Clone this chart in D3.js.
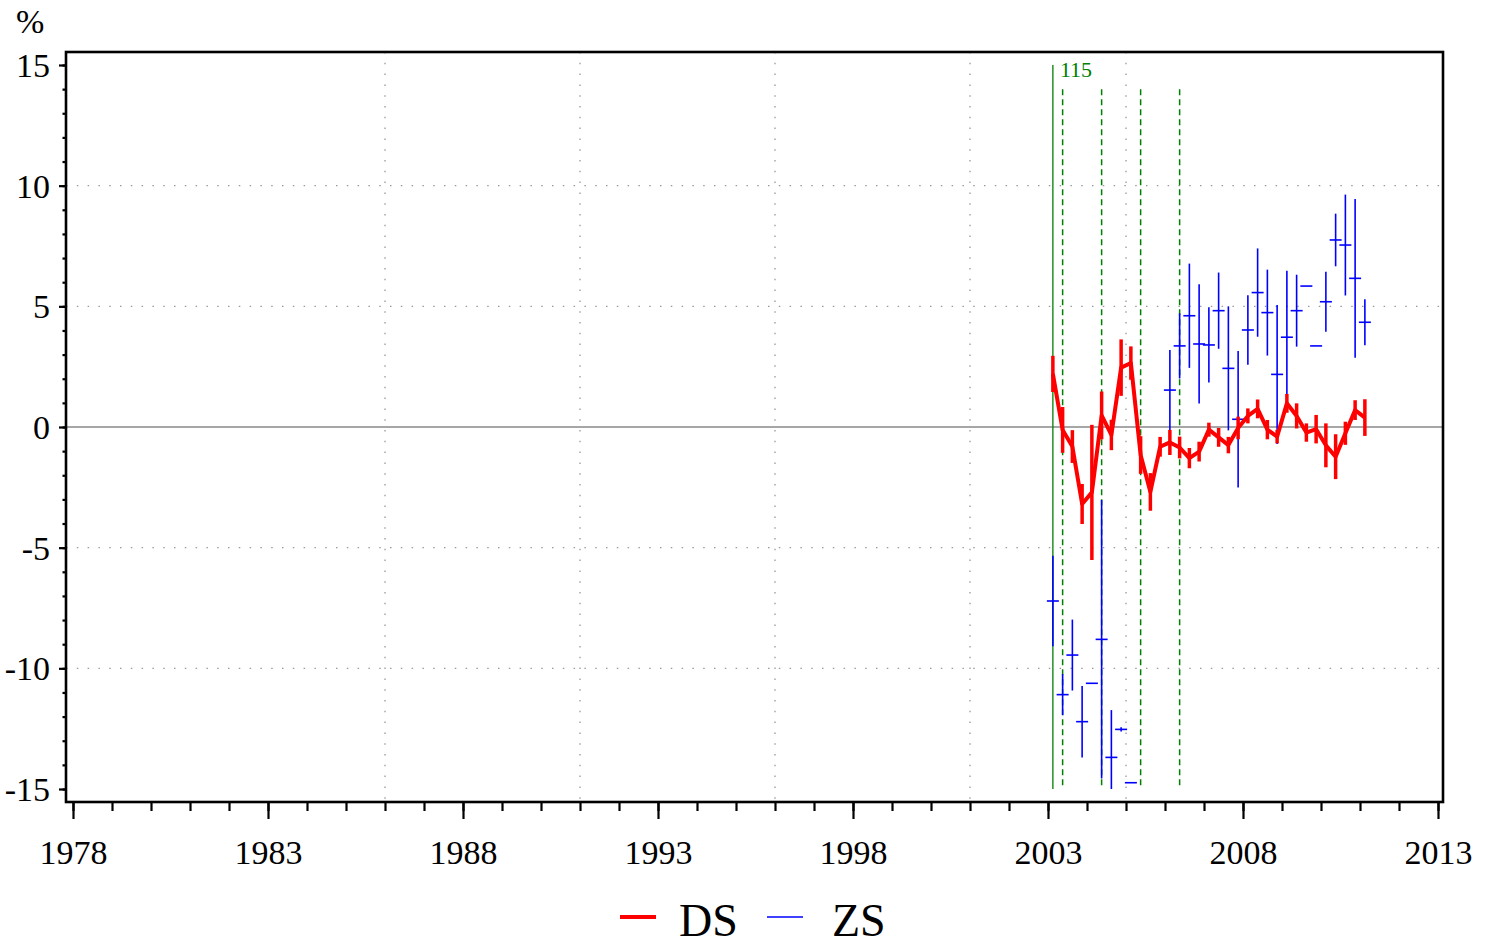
<!DOCTYPE html>
<html>
<head>
<meta charset="utf-8">
<script src="https://cdn.jsdelivr.net/npm/d3@7"></script>
<style>
  html, body { margin: 0; padding: 0; background: #ffffff; }
  svg { display: block; }
  text { font-family: "Liberation Serif", "Times New Roman", serif; }
</style>
</head>
<body>
<svg id="chart" width="1489" height="945"></svg>
<script>
// ---------------- DATA ----------------
const periods = ["2003Q1","2003Q2","2003Q3","2003Q4","2004Q1","2004Q2","2004Q3","2004Q4",
  "2005Q1","2005Q2","2005Q3","2005Q4","2006Q1","2006Q2","2006Q3","2006Q4",
  "2007Q1","2007Q2","2007Q3","2007Q4","2008Q1","2008Q2","2008Q3","2008Q4",
  "2009Q1","2009Q2","2009Q3","2009Q4","2010Q1","2010Q2","2010Q3","2010Q4","2011Q1"];
const dsValues = [2.20,-0.12,-0.81,-3.19,-2.71,0.48,-0.33,2.46,2.65,-1.16,-2.69,-0.82,-0.64,-0.85,-1.29,-1.02,
  -0.11,-0.43,-0.75,-0.04,0.46,0.75,-0.11,-0.40,0.98,0.46,-0.23,-0.09,-0.76,-1.23,-0.26,0.70,0.39];
const dsErr = [0.75,0.95,0.68,0.83,2.80,0.99,0.63,1.17,0.69,0.78,0.78,0.41,0.52,0.45,0.42,0.41,
  0.29,0.39,0.34,0.47,0.31,0.39,0.40,0.28,0.39,0.52,0.38,0.59,0.91,0.93,0.48,0.41,0.76];
const zsValues = [-7.21,-11.09,-9.45,-12.21,-10.62,-8.80,-13.69,-12.53,-14.74,null,null,null,
  1.53,3.36,4.61,3.44,3.40,4.82,2.43,0.32,4.02,5.57,4.74,2.18,3.72,4.82,5.84,3.36,5.19,7.75,7.54,6.16,4.34];
const zsErr = [1.88,0.85,1.47,1.48,0,5.77,1.96,0.09,0,null,null,null,
  1.66,1.35,2.16,2.47,1.56,1.58,2.57,2.83,1.44,1.83,1.78,2.88,2.75,1.49,0,0,1.24,1.09,2.09,3.29,0.95];

const xMajorTicks = [1978,1983,1988,1993,1998,2003,2008,2013];
const xMinorTicks = d3.range(1978, 2014);
const yMajorTicks = [-15,-10,-5,0,5,10,15];
const yMinorTicks = d3.range(-15, 16);
const yGrid = [-10,-5,5,10];
const xGrid = [1986,1991,1996,2001,2005];
const solidMarker = "2003Q1";
const solidMarkerLabel = "115";
const dashedMarkers = ["2003Q2","2004Q2","2005Q2","2006Q2"];
const seriesNames = ["DS","ZS"];
const yUnit = "%";

// ---------------- LAYOUT ----------------
const toYear = p => +p.slice(0,4) + (+p.slice(5) - 0.5) / 4;
const svg = d3.select("#chart");
const frame = {left: 66, right: 1443, top: 52, bottom: 802};
const x = d3.scaleLinear().domain([1978, 2013]).range([73, 1438]);
const y = d3.scaleLinear().domain([-15, 15]).range([789, 65]);
const clampY = v => Math.max(-15, Math.min(15, v));
const plainNum = d => String(d);

// grid
svg.append("g").selectAll("line").data(yGrid).join("line")
  .attr("x1", frame.left).attr("x2", frame.right)
  .attr("y1", d => y(d)).attr("y2", d => y(d))
  .attr("stroke", "#999").attr("stroke-width", 1.3).attr("stroke-dasharray", "1.5,9.3");
svg.append("g").selectAll("line").data(xGrid).join("line")
  .attr("x1", d => x(d)).attr("x2", d => x(d))
  .attr("y1", frame.top).attr("y2", frame.bottom)
  .attr("stroke", "#999").attr("stroke-width", 1.3).attr("stroke-dasharray", "1.5,9.3");

// zero line
svg.append("line")
  .attr("x1", frame.left).attr("x2", frame.right)
  .attr("y1", y(0)).attr("y2", y(0))
  .attr("stroke", "#888").attr("stroke-width", 1.5);

// green markers
svg.append("line")
  .attr("x1", x(toYear(solidMarker))).attr("x2", x(toYear(solidMarker)))
  .attr("y1", y(15)).attr("y2", y(-15))
  .attr("stroke", "#008000").attr("stroke-width", 1.3);
svg.append("text")
  .attr("x", x(toYear(solidMarker)) + 7).attr("y", y(15) + 12)
  .attr("fill", "#008000").attr("font-size", 22)
  .text(solidMarkerLabel);
svg.append("g").selectAll("line").data(dashedMarkers).join("line")
  .attr("x1", d => x(toYear(d))).attr("x2", d => x(toYear(d)))
  .attr("y1", y(14)).attr("y2", y(-15))
  .attr("stroke", "#008000").attr("stroke-width", 1.5).attr("stroke-dasharray", "6,4");

// data
const data = periods.map((p, i) => ({
  t: toYear(p), ds: dsValues[i], dsE: dsErr[i], zs: zsValues[i], zsE: zsErr[i]
}));

// ZS (blue)
const zsData = data.filter(d => d.zs !== null);
svg.append("g").selectAll("line").data(zsData.filter(d => d.zsE > 0)).join("line")
  .attr("x1", d => x(d.t)).attr("x2", d => x(d.t))
  .attr("y1", d => y(clampY(d.zs + d.zsE))).attr("y2", d => y(clampY(d.zs - d.zsE)))
  .attr("stroke", "#0000ff").attr("stroke-width", 1.6);
svg.append("g").selectAll("line").data(zsData).join("line")
  .attr("x1", d => x(d.t) - 6).attr("x2", d => x(d.t) + 6)
  .attr("y1", d => y(d.zs)).attr("y2", d => y(d.zs))
  .attr("stroke", "#0000ff").attr("stroke-width", 1.6);

// DS (red)
svg.append("g").selectAll("line").data(data).join("line")
  .attr("x1", d => x(d.t)).attr("x2", d => x(d.t))
  .attr("y1", d => y(clampY(d.ds + d.dsE))).attr("y2", d => y(clampY(d.ds - d.dsE)))
  .attr("stroke", "#ff0000").attr("stroke-width", 3.5);
svg.append("path").datum(data)
  .attr("d", d3.line().x(d => x(d.t)).y(d => y(d.ds)))
  .attr("fill", "none").attr("stroke", "#ff0000").attr("stroke-width", 4)
  .attr("stroke-linejoin", "round");

// frame
svg.append("rect")
  .attr("x", frame.left).attr("y", frame.top)
  .attr("width", frame.right - frame.left).attr("height", frame.bottom - frame.top)
  .attr("fill", "none").attr("stroke", "#000").attr("stroke-width", 2.6);

// axes
const yAxisMinor = svg.append("g").attr("transform", `translate(${frame.left},0)`)
  .call(d3.axisLeft(y).tickValues(yMinorTicks).tickSize(3.5).tickFormat(""));
const yAxis = svg.append("g").attr("transform", `translate(${frame.left},0)`)
  .call(d3.axisLeft(y).tickValues(yMajorTicks).tickSize(7).tickPadding(9).tickFormat(plainNum));
const xAxisMinor = svg.append("g").attr("transform", `translate(0,${frame.bottom})`)
  .call(d3.axisBottom(x).tickValues(xMinorTicks).tickSize(9).tickFormat(""));
const xAxis = svg.append("g").attr("transform", `translate(0,${frame.bottom})`)
  .call(d3.axisBottom(x).tickValues(xMajorTicks).tickSize(17).tickPadding(21).tickFormat(plainNum));

[yAxisMinor, yAxis, xAxisMinor, xAxis].forEach(g => {
  g.select(".domain").remove();
  g.selectAll(".tick line").attr("stroke", "#000").attr("stroke-width", 2.2);
  g.selectAll("text").attr("font-family", "'Liberation Serif', serif").attr("font-size", 34).attr("fill", "#000");
});
yAxis.selectAll("text").attr("dy", "0.34em");
xAxis.selectAll("text").attr("dy", "0.71em");

// unit label
svg.append("text").attr("x", 16).attr("y", 33).attr("font-size", 34).text(yUnit);

// legend
const legend = svg.append("g");
legend.append("line").attr("x1", 620).attr("x2", 656).attr("y1", 917).attr("y2", 917)
  .attr("stroke", "#ff0000").attr("stroke-width", 4);
legend.append("text").attr("x", 679).attr("y", 936).attr("font-size", 46).text(seriesNames[0]);
legend.append("line").attr("x1", 767).attr("x2", 803).attr("y1", 917).attr("y2", 917)
  .attr("stroke", "#0000ff").attr("stroke-width", 1.6);
legend.append("text").attr("x", 832).attr("y", 936).attr("font-size", 46).text(seriesNames[1]);
</script>
</body>
</html>
